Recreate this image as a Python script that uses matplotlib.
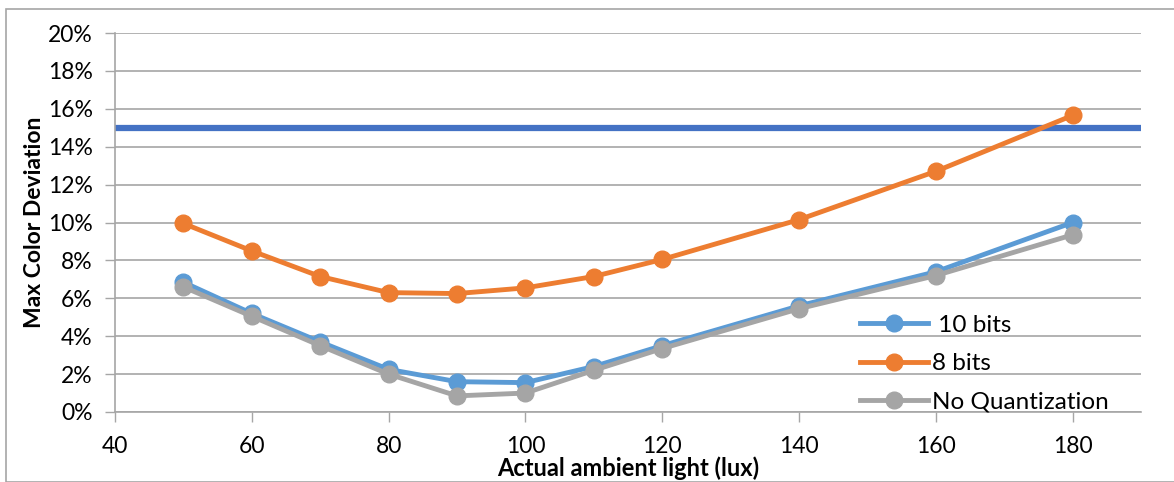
import matplotlib.pyplot as plt
from matplotlib.ticker import PercentFormatter
from matplotlib.patches import Rectangle

plt.rcParams['font.family'] = ['Lato', 'DejaVu Sans']

lux = [50, 60, 70, 80, 90, 100, 110, 120, 140, 160, 180]
dev_10bits = [6.85, 5.2, 3.7, 2.25, 1.6, 1.55, 2.4, 3.5, 5.6, 7.4, 10.0]
dev_8bits = [9.95, 8.5, 7.15, 6.3, 6.25, 6.55, 7.15, 8.05, 10.15, 12.7, 15.65]
dev_noquant = [6.6, 5.05, 3.5, 2.0, 0.85, 1.0, 2.2, 3.35, 5.45, 7.2, 9.35]
threshold = 15.0

fig = plt.figure(figsize=(11.74, 4.82), dpi=100)
ax = fig.add_axes([115 / 1174, 70 / 482, (1141 - 115) / 1174, (412 - 33) / 482])

ax.axhline(threshold, color="#4472C4", lw=4.5, zorder=2)
ax.plot(lux, dev_10bits, color="#5B9BD5", lw=3.5, marker="o", ms=12, label=" 10 bits", zorder=3)
ax.plot(lux, dev_8bits, color="#ED7D31", lw=3.5, marker="o", ms=12, label="8 bits", zorder=3)
ax.plot(lux, dev_noquant, color="#A5A5A5", lw=3.5, marker="o", ms=12, label="No Quantization", zorder=4)

ax.set_xlim(40, 190)
ax.set_ylim(0, 20)
ax.set_xticks(range(40, 181, 20))
ax.set_yticks(range(0, 21, 2))
ax.yaxis.set_major_formatter(PercentFormatter(decimals=0))
ax.grid(axis="y", color="#A6A6A6", lw=1.2)
ax.set_axisbelow(True)

for s in ["top", "right"]:
    ax.spines[s].set_visible(False)
ax.spines["left"].set_color("#A6A6A6")
ax.spines["bottom"].set_color("#A6A6A6")
ax.spines["left"].set_linewidth(1.2)
ax.spines["bottom"].set_linewidth(1.2)
ax.tick_params(axis="both", colors="#A6A6A6", labelcolor="black", labelsize=16.5, length=7, width=1)
ax.tick_params(axis="y", pad=9)
ax.tick_params(axis="x", pad=10)

ax.set_xlabel("Actual ambient light (lux)", fontsize=17, fontweight="bold", labelpad=0)
ax.set_ylabel("Max Color Deviation", fontsize=16.5, fontweight="bold", labelpad=2)

ax.legend(loc="lower right", bbox_to_anchor=(0.99, -0.06), frameon=False, fontsize=17.5,
          handlelength=2.8, handletextpad=0.15, labelspacing=0.72)

fig.patches.append(Rectangle((6 / 1174, 0), 1.0, (482 - 9) / 482, transform=fig.transFigure,
                             fill=False, edgecolor="#A6A6A6", lw=1.2))

fig.savefig("out.png", dpi=100)
